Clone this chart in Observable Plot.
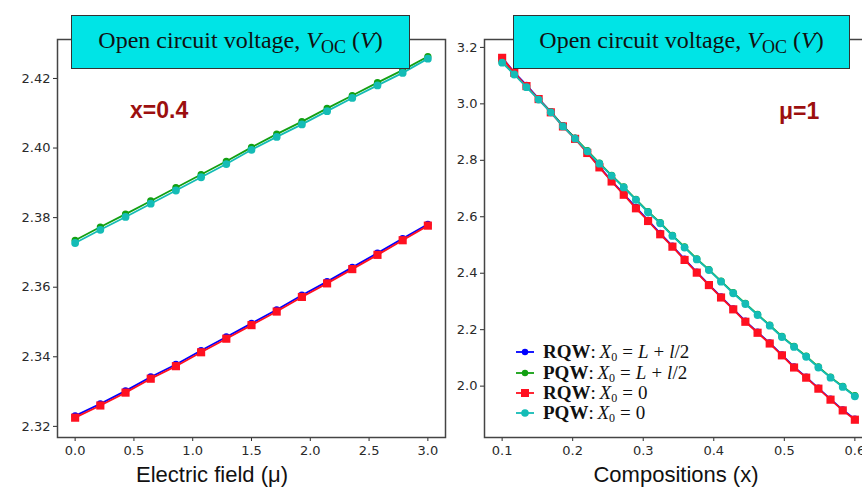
<!DOCTYPE html>
<html><head><meta charset="utf-8">
<script src="https://cdn.jsdelivr.net/npm/d3@7"></script>
<script src="https://cdn.jsdelivr.net/npm/@observablehq/plot@0.6"></script>
<style>
html,body{margin:0;padding:0;background:#fff;}
#wrap{position:relative;width:862px;height:489px;overflow:hidden;background:#fff;}
.panel{position:absolute;top:0;}
.tbox{position:absolute;top:15px;height:54px;background:#00e4e6;border:1.5px solid #333;box-sizing:border-box;font-family:"Liberation Serif",serif;font-size:24px;color:#111;display:flex;align-items:center;justify-content:center;white-space:nowrap;padding-bottom:4px;}
.tbox sub{font-size:18px;position:relative;top:5px;vertical-align:baseline;line-height:1;}
.ann{position:absolute;font-family:"Liberation Sans",Arial,sans-serif;font-weight:bold;font-size:23px;color:#9c0f0f;}
.axl{position:absolute;font-family:"Liberation Sans",Arial,sans-serif;font-size:22px;color:#111;transform:translateX(-50%);white-space:nowrap;}
#legend{position:absolute;left:514px;top:342px;font-family:"Liberation Serif",serif;font-size:19px;line-height:18px;color:#111;}
#legend .row{height:20.4px;display:flex;align-items:center;white-space:nowrap;}
#legend svg{margin-right:7px;flex:none;}
#legend sub{font-size:12px;position:relative;top:3px;vertical-align:baseline;line-height:1;font-style:normal;}
#legend .op{display:inline-block;margin:0 5px;}
</style></head>
<body><div id="wrap"></div>
<script>
// ---- data ----
const fieldVals = [0, 0.2143, 0.4286, 0.6429, 0.8571, 1.0714, 1.2857, 1.5, 1.7143, 1.9286, 2.1429, 2.3571, 2.5714, 2.7857, 3.0];
const fieldRQW_L = [2.3230, 2.3265, 2.3302, 2.3342, 2.3378, 2.3418, 2.3457, 2.3496, 2.3535, 2.3577, 2.3616, 2.3657, 2.3698, 2.3740, 2.3781];
const fieldPQW_L = [2.3735, 2.3773, 2.3810, 2.3848, 2.3886, 2.3924, 2.3962, 2.4002, 2.4040, 2.4076, 2.4114, 2.4151, 2.4188, 2.4224, 2.4263];
const fieldRQW_0 = [2.3225, 2.3260, 2.3297, 2.3337, 2.3373, 2.3413, 2.3452, 2.3491, 2.3530, 2.3572, 2.3611, 2.3652, 2.3693, 2.3735, 2.3777];
const fieldPQW_0 = [2.3727, 2.3765, 2.3802, 2.3840, 2.3878, 2.3916, 2.3954, 2.3995, 2.4032, 2.4068, 2.4106, 2.4144, 2.4180, 2.4216, 2.4257];

const compVals = [0.1, 0.1172, 0.1345, 0.1517, 0.1690, 0.1862, 0.2034, 0.2207, 0.2379, 0.2552, 0.2724, 0.2897, 0.3069, 0.3241, 0.3414, 0.3586, 0.3759, 0.3931, 0.4103, 0.4276, 0.4448, 0.4621, 0.4793, 0.4966, 0.5138, 0.5310, 0.5483, 0.5655, 0.5828, 0.6];
const compRQW_L = [3.164, 3.112, 3.066, 3.019, 2.972, 2.922, 2.878, 2.829, 2.777, 2.727, 2.680, 2.633, 2.587, 2.541, 2.496, 2.450, 2.404, 2.360, 2.316, 2.274, 2.230, 2.191, 2.153, 2.111, 2.068, 2.032, 1.993, 1.954, 1.916, 1.883];
const compPQW_L = [3.147, 3.106, 3.061, 3.017, 2.972, 2.922, 2.879, 2.834, 2.790, 2.747, 2.706, 2.662, 2.618, 2.579, 2.534, 2.493, 2.451, 2.413, 2.372, 2.331, 2.293, 2.254, 2.216, 2.176, 2.141, 2.106, 2.068, 2.032, 1.999, 1.966];
const compRQW_0 = [3.163, 3.110, 3.063, 3.017, 2.970, 2.920, 2.876, 2.826, 2.775, 2.725, 2.678, 2.630, 2.585, 2.538, 2.494, 2.447, 2.402, 2.358, 2.314, 2.272, 2.228, 2.189, 2.151, 2.109, 2.066, 2.030, 1.991, 1.952, 1.914, 1.881];
const compPQW_0 = [3.146, 3.104, 3.059, 3.015, 2.970, 2.920, 2.877, 2.832, 2.788, 2.745, 2.704, 2.660, 2.616, 2.577, 2.532, 2.491, 2.449, 2.411, 2.370, 2.329, 2.291, 2.252, 2.214, 2.174, 2.139, 2.104, 2.066, 2.030, 1.997, 1.964];

const leftXTicks = [0, 0.5, 1.0, 1.5, 2.0, 2.5, 3.0];
const leftYTicks = [2.32, 2.34, 2.36, 2.38, 2.40, 2.42];
const rightXTicks = [0.1, 0.2, 0.3, 0.4, 0.5, 0.6];
const rightYTicks = [2.0, 2.2, 2.4, 2.6, 2.8, 3.0, 3.2];

const seriesNames = ["RQW: X0 = L + l/2", "PQW: X0 = L + l/2", "RQW: X0 = 0", "PQW: X0 = 0"];
const seriesColors = ["#0000ff", "#12a012", "#ff1020", "#14bcb6"];
const seriesSymbols = ["circle", "circle", "square", "circle"];
const seriesR = [3.6, 3.6, 4.6, 3.9];

function table(xs, ys) { return xs.map((x, i) => ({x, y: ys[i]})); }

function panel({xs, ys, xDomain, yDomain, xTicks, yTicks, xFmt, yFmt, width, marginLeft}) {
  const marks = [];
  ys.forEach((arr, k) => {
    const data = table(xs, arr);
    marks.push(Plot.line(data, {x: "x", y: "y", stroke: seriesColors[k], strokeWidth: 1.8}));
    marks.push(Plot.dot(data, {x: "x", y: "y", fill: seriesColors[k], stroke: "none", symbol: seriesSymbols[k], r: seriesR[k]}));
  });
  marks.push(Plot.frame({stroke: "#444", strokeWidth: 1.5}));
  return Plot.plot({
    width, height: 489,
    marginLeft, marginRight: 1, marginTop: 39, marginBottom: 52,
    style: {fontFamily: "DejaVu Sans", fontSize: "13px", color: "#2a2a2a", background: "transparent", overflow: "visible"},
    x: {domain: xDomain, ticks: xTicks, tickFormat: xFmt, label: null, tickSize: 4, tickPadding: 4},
    y: {domain: yDomain, ticks: yTicks, tickFormat: yFmt, label: null, tickSize: 4, tickPadding: 3},
    marks
  });
}

const wrap = document.getElementById("wrap");
const left = panel({
  xs: fieldVals, ys: [fieldRQW_L, fieldPQW_L, fieldRQW_0, fieldPQW_0],
  xDomain: [-0.15, 3.15], yDomain: [2.3168, 2.4312],
  xTicks: leftXTicks, yTicks: leftYTicks, xFmt: d3.format(".1f"), yFmt: d3.format(".2f"),
  width: 446, marginLeft: 57
});
left.classList.add("panel"); left.style.left = "0px";
wrap.appendChild(left);

const right = panel({
  xs: compVals, ys: [compRQW_L, compPQW_L, compRQW_0, compPQW_0],
  xDomain: [0.075, 0.625], yDomain: [1.818, 3.228],
  xTicks: rightXTicks, yTicks: rightYTicks, xFmt: d3.format(".1f"), yFmt: d3.format(".1f"),
  width: 428, marginLeft: 39
});
right.classList.add("panel"); right.style.left = "445px";
wrap.appendChild(right);

function addHTML(html) { const t = document.createElement("template"); t.innerHTML = html.trim(); wrap.appendChild(t.content.firstChild); }
const titleHTML = '<span>Open circuit voltage,&nbsp;<i>V</i><sub>OC</sub>&nbsp;(<i>V</i>)</span>';
addHTML(`<div class="tbox" style="left:71px;width:339px;">${titleHTML}</div>`);
addHTML(`<div class="tbox" style="left:513px;width:337px;">${titleHTML}</div>`);
addHTML('<div class="ann" style="left:130px;top:97px;">x=0.4</div>');
addHTML('<div class="ann" style="left:779px;top:98px;">μ=1</div>');
addHTML('<div class="axl" style="left:212px;top:462px;">Electric field (μ)</div>');
addHTML('<div class="axl" style="left:676px;top:462px;">Compositions (x)</div>');

const legendLabels = [
  '<b>RQW</b>:&thinsp;<i>X</i><sub>0</sub><span class="op">=</span><i>L</i><span class="op">+</span><i>l</i>/2',
  '<b>PQW</b>:&thinsp;<i>X</i><sub>0</sub><span class="op">=</span><i>L</i><span class="op">+</span><i>l</i>/2',
  '<b>RQW</b>:&thinsp;<i>X</i><sub>0</sub><span class="op">=</span>0',
  '<b>PQW</b>:&thinsp;<i>X</i><sub>0</sub><span class="op">=</span>0'
];
let lg = '<div id="legend">';
seriesNames.forEach((name, k) => {
  const sym = seriesSymbols[k] === "square"
    ? `<rect x="7" y="6" width="8" height="8" fill="${seriesColors[k]}"/>`
    : `<circle cx="11" cy="10" r="${k < 2 ? 3.2 : 3.8}" fill="${seriesColors[k]}"/>`;
  lg += `<div class="row" title="${name}"><svg width="22" height="20"><line x1="2" x2="20" y1="10" y2="10" stroke="${seriesColors[k]}" stroke-width="1.8"/>${sym}</svg><span>${legendLabels[k]}</span></div>`;
});
lg += '</div>';
addHTML(lg);
</script>
</body></html>
